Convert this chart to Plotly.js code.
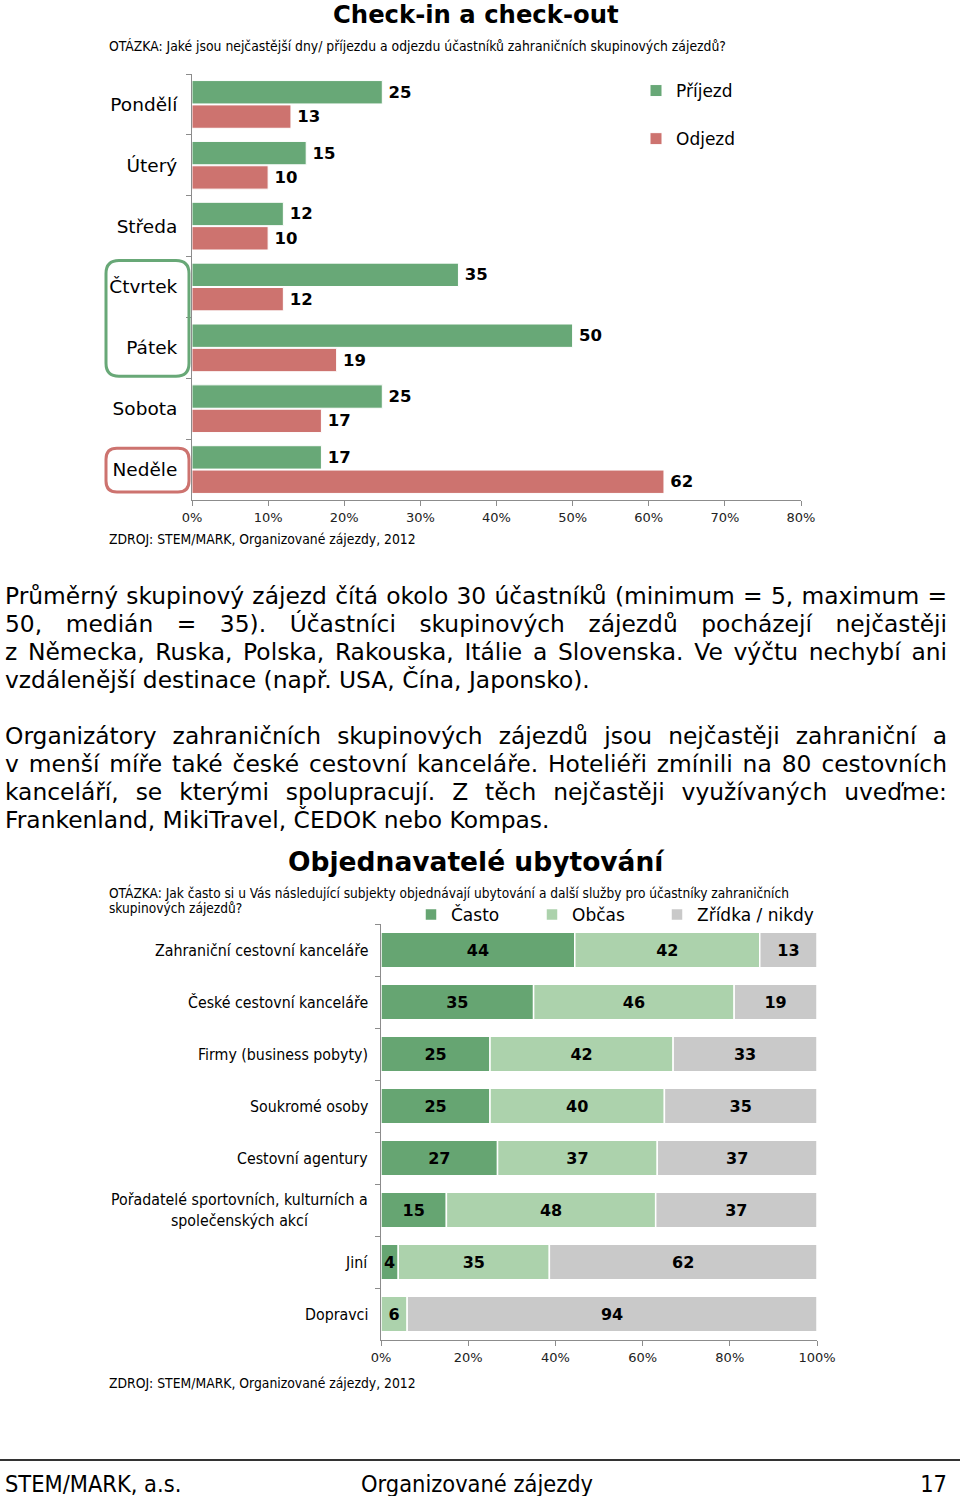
<!DOCTYPE html>
<html><head><meta charset="utf-8">
<script src="https://cdn.plot.ly/plotly-3.0.1.min.js"></script>
<style>
html,body{margin:0;padding:0;background:#fff;width:960px;height:1496px;overflow:hidden;}
#chart{position:absolute;left:0;top:0;width:960px;height:1496px;}
.pline{position:absolute;left:5px;width:942px;height:28px;line-height:28px;font-family:'DejaVu Sans',Verdana,sans-serif;font-size:20px;color:#000;white-space:nowrap;}
.foot{position:absolute;top:1469px;height:30px;line-height:30px;font-family:'DejaVu Sans Condensed','DejaVu Sans',sans-serif;font-size:23.4px;color:#000;white-space:nowrap;}
</style></head>
<body>
<div id="chart"></div>
<div id="text"></div>
<div class="foot" style="left:5px">STEM/MARK, a.s.</div>
<div class="foot" style="left:361px">Organizované zájezdy</div>
<div class="foot" style="right:13px">17</div>
<script>
// ---------- data: chart 1 ----------
const days = ['Pondělí','Úterý','Středa','Čtvrtek','Pátek','Sobota','Neděle'];
const arrival = [25,15,12,35,50,25,17];
const departure = [13,10,10,12,19,17,62];
const names1 = ['Příjezd','Odjezd'];
const xTicks1 = [0,10,20,30,40,50,60,70,80];

// ---------- data: chart 2 ----------
const subjects = ['Zahraniční cestovní kanceláře','České cestovní kanceláře','Firmy (business pobyty)','Soukromé osoby','Cestovní agentury','Pořadatelé sportovních, kulturních a<br>společenských akcí','Jiní','Dopravci'];
const often = [44,35,25,25,27,15,4,0];
const sometimes = [42,46,42,40,37,48,35,6];
const rarely = [13,19,33,35,37,37,62,94];
const names2 = ['Často','Občas','Zřídka / nikdy'];
const xTicks2 = [0,20,40,60,80,100];

// ---------- text ----------
const para1 = ['Průměrný skupinový zájezd čítá okolo 30 účastníků (minimum = 5, maximum =',
 '50, medián = 35). Účastníci skupinových zájezdů pocházejí nejčastěji',
 'z Německa, Ruska, Polska, Rakouska, Itálie a Slovenska. Ve výčtu nechybí ani',
 'vzdálenější destinace (např. USA, Čína, Japonsko).'];
const para2 = ['Organizátory zahraničních skupinových zájezdů jsou nejčastěji zahraniční a',
 'v menší míře také české cestovní kanceláře. Hoteliéři zmínili na 80 cestovních',
 'kanceláří, se kterými spolupracují. Z těch nejčastěji využívaných uveďme:',
 'Frankenland, MikiTravel, ČEDOK nebo Kompas.'];

const W = 960, H = 1496;
const px = x => x / W;
const py = y => 1 - y / H;

const green1 = '#68a877', red1 = '#cd736f';
const c2 = ['#66a572', '#acd2ac', '#c9c9c9'];
const axisCol = '#8c8c8c';
const F = 'DejaVu Sans';
const FC = 'DejaVu Sans Condensed, DejaVu Sans';

const c1 = {l:192, r:801, t:74, b:500};
const c2g = {l:381, r:817, t:924, b:1340};

const traces = [];
[arrival, departure].forEach((vals, k) => {
  traces.push({
    type:'bar', orientation:'h', name:names1[k], y:days, x:vals,
    xaxis:'x', yaxis:'y', legend:'legend', legendgroup:'g'+k,
    marker:{color:k===0?green1:red1, line:{color:'#ffffff', width:1}},
    text: vals.map(v => '\u2009' + v), textposition:'outside', constraintext:'none', cliponaxis:false,
    textfont:{family:F, size:16.5, weight:'bold', color:'#000'},
    hoverinfo:'skip'
  });
});

const legendKeys2 = ['legend2','legend3','legend4'];
const totals = subjects.map((_, i) => often[i] + sometimes[i] + rarely[i]);
const series2 = [often, sometimes, rarely];
const shares = series2.map(arr => arr.map((v, i) => v / totals[i] * 100));
shares.forEach((sh, k) => {
  const base = subjects.map((_, i) => { let s = 0; for (let j = 0; j < k; j++) s += shares[j][i]; return s; });
  traces.push({
    type:'bar', orientation:'h', name:names2[k], y:subjects, x:sh, base:base,
    xaxis:'x2', yaxis:'y2', legend:legendKeys2[k], offsetgroup:'s', width:0.68, offset:-0.34,
    marker:{color:c2[k], line:{color:'#ffffff', width:1.5}},
    text: series2[k].map(v => v ? String(v) : ''), textposition:'inside', insidetextanchor:'middle',
    constraintext:'none', textfont:{family:F, size:16, weight:'bold', color:'#000'},
    hoverinfo:'skip'
  });
});

function rrect(x0, y0, x1, y1, r) {
  const X = v => px(v).toFixed(5), Y = v => py(v).toFixed(5);
  return `M${X(x0+r)},${Y(y0)} L${X(x1-r)},${Y(y0)} Q${X(x1)},${Y(y0)} ${X(x1)},${Y(y0+r)} L${X(x1)},${Y(y1-r)} Q${X(x1)},${Y(y1)} ${X(x1-r)},${Y(y1)} L${X(x0+r)},${Y(y1)} Q${X(x0)},${Y(y1)} ${X(x0)},${Y(y1-r)} L${X(x0)},${Y(y0+r)} Q${X(x0)},${Y(y0)} ${X(x0+r)},${Y(y0)} Z`;
}
const rowH1 = (c1.b - c1.t) / days.length;
const rowTop = i => c1.t + i * rowH1;
const iThu = days.indexOf('Čtvrtek'), iFri = days.indexOf('Pátek'), iSun = days.indexOf('Neděle');

const shapes = [
  {type:'path', xref:'paper', yref:'paper', path:rrect(106, rowTop(iThu)+4, 189, rowTop(iFri+1)-2, 13), line:{color:green1, width:3}},
  {type:'path', xref:'paper', yref:'paper', path:rrect(106, rowTop(iSun)+9, 189, rowTop(iSun+1)-8, 11), line:{color:red1, width:3}},
  {type:'line', xref:'paper', yref:'paper', x0:0, x1:1, y0:py(1460), y1:py(1460), line:{color:'#333', width:2}}
];

const annotations = [
  {text:'<b>Check-in a check-out</b>', x:px(476), y:py(15), xref:'paper', yref:'paper', xanchor:'center', yanchor:'middle', showarrow:false, font:{family:F, size:24.3, color:'#000'}},
  {text:'OTÁZKA: Jaké jsou nejčastější dny/ příjezdu a odjezdu účastníků zahraničních skupinových zájezdů?', x:px(107), y:py(46), xref:'paper', yref:'paper', xanchor:'left', yanchor:'middle', showarrow:false, font:{family:FC, size:13.8, color:'#000'}},
  {text:'ZDROJ: STEM/MARK, Organizované zájezdy, 2012', x:px(107), y:py(539), xref:'paper', yref:'paper', xanchor:'left', yanchor:'middle', showarrow:false, font:{family:FC, size:13.8, color:'#000'}},
  {text:'<b>Objednavatelé ubytování</b>', x:px(476), y:py(861), xref:'paper', yref:'paper', xanchor:'center', yanchor:'middle', showarrow:false, font:{family:F, size:26.5, color:'#000'}},
  {text:'OTÁZKA: Jak často si u Vás následující subjekty objednávají ubytování a další služby pro účastníky zahraničních', x:px(107), y:py(892), xref:'paper', yref:'paper', xanchor:'left', yanchor:'middle', showarrow:false, font:{family:FC, size:13.6, color:'#000'}},
  {text:'skupinových zájezdů?', x:px(107), y:py(908), xref:'paper', yref:'paper', xanchor:'left', yanchor:'middle', showarrow:false, font:{family:FC, size:13.6, color:'#000'}},
  {text:'ZDROJ: STEM/MARK, Organizované zájezdy, 2012', x:px(107), y:py(1383), xref:'paper', yref:'paper', xanchor:'left', yanchor:'middle', showarrow:false, font:{family:FC, size:13.8, color:'#000'}}
];
subjects.forEach(s => annotations.push({
  text:s, x:px(370), xref:'paper', y:s, yref:'y2', xanchor:'right', yanchor:'middle', align:'center',
  showarrow:false, font:{family:FC, size:15.8, color:'#000'}
}));

const axBase = {showgrid:false, zeroline:false, showline:true, linecolor:axisCol, linewidth:1, ticks:'outside', tickcolor:axisCol, ticklen:5, fixedrange:true};
const leg2 = x => ({x:px(x), y:py(897), xanchor:'left', yanchor:'top', bgcolor:'rgba(0,0,0,0)', font:{family:F, size:17, color:'#000'}});

const layout = {
  width:W, height:H, margin:{l:0, r:0, t:0, b:0},
  paper_bgcolor:'#ffffff', plot_bgcolor:'rgba(0,0,0,0)',
  barmode:'group', bargap:0.2, bargroupgap:0.04,
  font:{family:F, color:'#000'},
  xaxis:Object.assign({}, axBase, {domain:[px(c1.l), px(c1.r)], range:[0,80], anchor:'y',
    tickvals:xTicks1, ticktext:xTicks1.map(v => v + '%'), tickfont:{family:F, size:13, color:'#222'}}),
  yaxis:Object.assign({}, axBase, {domain:[py(c1.b), py(c1.t)], anchor:'x', type:'category', autorange:'reversed',
    tickson:'boundaries', tickfont:{family:F, size:18.5, color:'#000'}, ticklabelstandoff:10}),
  xaxis2:Object.assign({}, axBase, {domain:[px(c2g.l), px(c2g.r)], range:[0,100], anchor:'y2',
    tickvals:xTicks2, ticktext:xTicks2.map(v => v + '%'), tickfont:{family:F, size:13, color:'#222'}}),
  yaxis2:Object.assign({}, axBase, {domain:[py(c2g.b), py(c2g.t)], anchor:'x2', type:'category', autorange:'reversed',
    tickson:'boundaries', showticklabels:false}),
  legend:{x:px(636), y:py(73), xanchor:'left', yanchor:'top', bgcolor:'rgba(0,0,0,0)', font:{family:F, size:17, color:'#000'}, tracegroupgap:23, traceorder:'grouped'},
  legend2:leg2(411), legend3:leg2(532), legend4:leg2(657),
  shapes:shapes, annotations:annotations, showlegend:true
};

Plotly.newPlot('chart', traces, layout, {displayModeBar:false, staticPlot:true});

// ---------- paragraphs ----------
const textDiv = document.getElementById('text');
(function(){
  const probe = document.createElement('span');
  probe.className = 'pline'; probe.style.position='absolute'; probe.style.width='auto'; probe.style.visibility='hidden';
  probe.textContent = para1[3];
  document.body.appendChild(probe);
  const w = probe.getBoundingClientRect().width;
  window.__fs = 20 * 585 / w;
  probe.remove();
})();
function addPara(lines, top) {
  lines.forEach((t, i) => {
    const d = document.createElement('div');
    d.className = 'pline';
    d.style.fontSize = window.__fs + 'px';
    d.style.top = (top + i * 28) + 'px';
    const s = document.createElement('span');
    s.textContent = t;
    d.appendChild(s);
    textDiv.appendChild(d);
    if (i < lines.length - 1) {
      const w = s.getBoundingClientRect().width;
      const n = (t.match(/ /g) || []).length;
      s.style.wordSpacing = ((942 - w) / n) + 'px';
    }
  });
}
addPara(para1, 582);
addPara(para2, 722);
</script>
</body></html>
